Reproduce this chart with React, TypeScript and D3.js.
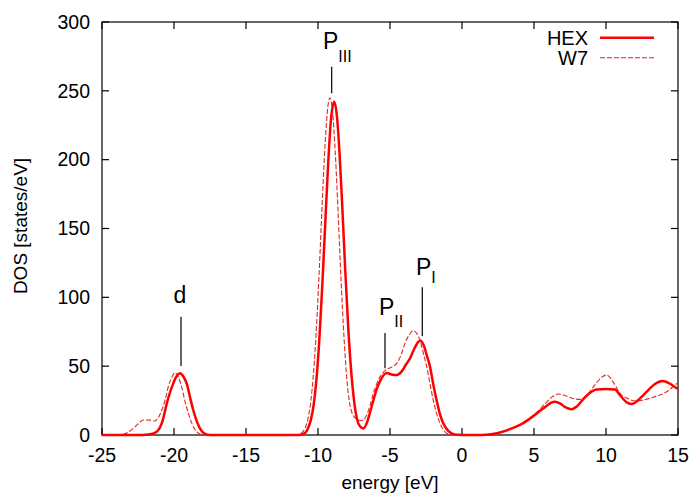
import React from "react";
import * as d3 from "d3";

// ---- data ----
const hexEnergy = [
  -25, -22.2, -21.78, -21.2, -20.8, -20.5, -20.05, -19.8, -19.58, -19.35, -19.12, -18.9, -18.66, -18.4, -18.2, -17.85, -17.5,
  -11.3, -10.9, -10.7, -10.5, -10.3, -10.1, -9.9, -9.7, -9.5, -9.3, -9.1, -8.88, -8.7, -8.5, -8.3, -8.1, -7.9, -7.7, -7.5,
  -7.3, -7.1, -6.85, -6.6, -6.4, -6.16, -5.9, -5.6, -5.23, -4.9, -4.53, -4.2, -3.9, -3.61, -3.3, -3.05, -2.87, -2.65, -2.45,
  -2.22, -2.0, -1.76, -1.5, -1.3, -1.0, -0.72, -0.3, 0.5, 1.4, 2, 2.5, 3, 3.5, 4.03, 4.6, 5.19, 5.8, 6.2, 6.46, 6.8, 7.2,
  7.62, 8.0, 8.5, 9.0, 9.35, 10, 10.62, 11.0, 11.4, 11.78, 12.2, 12.5, 12.83, 13.4, 13.94, 14.4, 14.9, 15,
];
const hexDos = [
  0, 0, 0.3, 2.4, 10, 23, 37.5, 43, 44.8, 42.5, 37.5, 28, 18, 9.5, 4.8, 0.8, 0,
  0, 1.5, 4.8, 10.8, 22, 41.5, 70.6, 109, 153, 196, 229, 242, 233, 204, 163, 118, 78, 47, 25.4,
  12, 6.5, 4.8, 9, 16, 25, 34, 41, 45, 44, 43.6, 46, 51, 55.7, 63, 67.5, 68.5, 65, 58,
  49.6, 37, 25, 14, 8.5, 3.5, 1.2, 0.2, 0, 0, 0.5, 1.5, 3, 5, 7.3, 11, 15.7, 20.5, 23.5, 24.2, 23, 20,
  18.7, 21, 27, 31.5, 33, 33.5, 33, 28.5, 24, 22.5, 25, 28, 31.5, 37, 39.2, 37.5, 34, 33.5,
];

const w7Energy = [
  -25, -23.8, -23.5, -23.2, -22.83, -22.5, -22.13, -21.7, -21.32, -21.1, -20.85, -20.6, -20.4, -20.15, -19.93, -19.7, -19.47,
  -19.25, -19.0, -18.7, -18.43, -18.08, -17.8,
  -11.6, -11.3, -11.1, -10.9, -10.7, -10.5, -10.3, -10.1, -9.9, -9.7, -9.5, -9.3, -9.17, -9.0, -8.8, -8.6, -8.4, -8.2, -8.0,
  -7.8, -7.6, -7.3, -6.97, -6.6, -6.4, -6.16, -5.8, -5.35, -4.95, -4.53, -4.2, -3.96, -3.65, -3.38, -3.15, -2.92, -2.7, -2.45,
  -2.2, -1.99, -1.75, -1.53, -1.3, -1.06, -0.6, 0.5, 1.4, 2, 2.5, 3, 3.5, 4.03, 4.6, 5.19, 5.8, 6.3, 6.69, 7.2, 7.7, 8.19,
  8.7, 9.2, 9.7, 10.05, 10.4, 10.7, 10.97, 11.5, 12.13, 12.8, 13.3, 13.75, 14.3, 14.7, 15,
];
const w7Dos = [
  0, 0, 0.5, 2, 4.8, 8, 10.9, 10.8, 10.2, 12.5, 18, 26, 35, 42, 45.3, 42, 35,
  25, 15.7, 7, 2.4, 0.3, 0,
  0, 0.7, 1.9, 5, 11.7, 24.5, 46.5, 79.6, 122.5, 170, 212.6, 239.7, 245, 236, 205, 160.5, 113, 72, 41,
  23, 15, 11.5, 10.4, 15, 21, 30, 40, 46.7, 49, 52, 59, 66.6, 73, 75.8, 74, 69, 60, 49.6,
  36, 25, 15, 8.5, 4, 1.2, 0.1, 0, 0, 0.5, 1.5, 3, 5, 7.5, 11.5, 16.5, 23, 28, 29.8, 28.5, 26.5, 25.9,
  29, 36, 42, 43.6, 40, 35, 30.3, 26.5, 24.7, 26, 27.5, 29, 32, 35.5, 38,
];

const xTicks = [-25, -20, -15, -10, -5, 0, 5, 10, 15];
const yTicks = [0, 50, 100, 150, 200, 250, 300];
const seriesNames = ["HEX", "W7"];

// ---- layout ----
const W = 693;
const H = 497;
const left = 102;
const right = 678;
const top = 22;
const bottom = 435;
const FONT = "'Liberation Sans', Arial, Helvetica, sans-serif";

export default function App() {
  const x = d3.scaleLinear().domain([-25, 15]).range([left, right]);
  const y = d3.scaleLinear().domain([0, 300]).range([bottom, top]);

  const line = d3
    .line<[number, number]>()
    .x((d) => x(d[0]))
    .y((d) => y(d[1]))
    .curve(d3.curveMonotoneX);

  const hexPts: [number, number][] = hexEnergy.map((e, i) => [e, hexDos[i]]);
  const w7Pts: [number, number][] = w7Energy.map((e, i) => [e, w7Dos[i]]);

  const tickLen = 7;

  return (
    <svg
      width={W}
      height={H}
      style={{ position: "absolute", left: 0, top: 0, background: "#fff" }}
      fontFamily={FONT}
    >
      <rect x={0} y={0} width={W} height={H} fill="#fff" />
      {/* frame */}
      <rect x={left} y={top} width={right - left} height={bottom - top} fill="none" stroke="#000" strokeWidth={1.2} />
      {/* ticks */}
      {xTicks.map((t) => (
        <g key={"xt" + t}>
          <line x1={x(t)} x2={x(t)} y1={bottom} y2={bottom - tickLen} stroke="#000" strokeWidth={1.2} />
          <line x1={x(t)} x2={x(t)} y1={top} y2={top + tickLen} stroke="#000" strokeWidth={1.2} />
          <text x={x(t)} y={462} textAnchor="middle" fontSize={19.5} fill="#000">
            {t}
          </text>
        </g>
      ))}
      {yTicks.map((t) => (
        <g key={"yt" + t}>
          <line x1={left} x2={left + tickLen} y1={y(t)} y2={y(t)} stroke="#000" strokeWidth={1.2} />
          <line x1={right} x2={right - tickLen} y1={y(t)} y2={y(t)} stroke="#000" strokeWidth={1.2} />
          <text x={90} y={y(t) + 6.8} textAnchor="end" fontSize={19.5} fill="#000">
            {t}
          </text>
        </g>
      ))}
      {/* axis titles */}
      <text x={390} y={489} textAnchor="middle" fontSize={19} fill="#000">
        energy [eV]
      </text>
      <text transform={`translate(27,226) rotate(-90)`} textAnchor="middle" fontSize={19} fill="#000">
        DOS [states/eV]
      </text>

      {/* annotations */}
      <g fill="#000">
        <text x={323} y={48.5} fontSize={23}>
          P<tspan fontSize={16} dx={0} dy={13.2}>III</tspan>
        </text>
        <line x1={331.7} x2={331.7} y1={66.7} y2={93.3} stroke="#000" strokeWidth={1.2} />

        <text x={180} y={303.3} fontSize={23} textAnchor="middle">d</text>
        <line x1={181} x2={181} y1={316.7} y2={366} stroke="#000" strokeWidth={1.2} />

        <text x={379} y={315} fontSize={23}>
          P<tspan fontSize={16} dx={0} dy={12.3}>II</tspan>
        </text>
        <line x1={385} x2={385} y1={333} y2={368.3} stroke="#000" strokeWidth={1.2} />

        <text x={416} y={275} fontSize={23}>
          P<tspan fontSize={16} dx={0} dy={8.3}>I</tspan>
        </text>
        <line x1={422.3} x2={422.3} y1={287.3} y2={336} stroke="#000" strokeWidth={1.2} />
      </g>

      {/* curves */}
      <path d={line(w7Pts) || ""} fill="none" stroke="#e02828" strokeWidth={1.1} strokeDasharray="5,2" />
      <path d={line(hexPts) || ""} fill="none" stroke="#ff0000" strokeWidth={2.5} />

      {/* legend */}
      <text x={588} y={45} textAnchor="end" fontSize={20} fill="#000">
        {seriesNames[0]}
      </text>
      <line x1={600} x2={654} y1={37.7} y2={37.7} stroke="#ff0000" strokeWidth={2.5} />
      <text x={588} y={65} textAnchor="end" fontSize={20} fill="#000">
        {seriesNames[1]}
      </text>
      <line x1={600} x2={654} y1={57.7} y2={57.7} stroke="#e02828" strokeWidth={1.1} strokeDasharray="5,2" />
    </svg>
  );
}
